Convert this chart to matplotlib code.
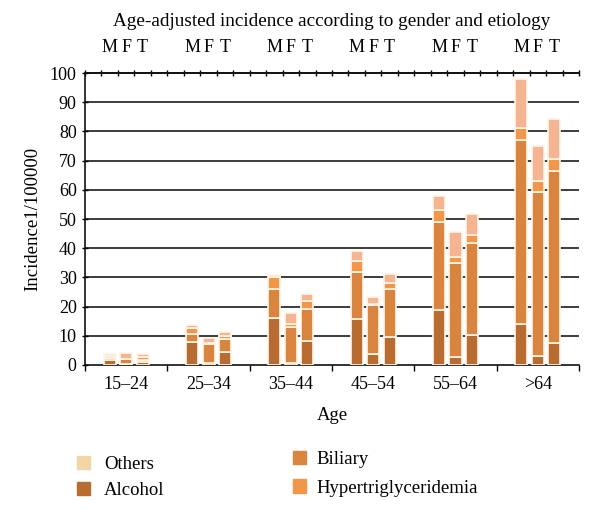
import matplotlib.pyplot as plt
from matplotlib.patches import Patch
from matplotlib.ticker import FixedLocator
import numpy as np

plt.rcParams['font.family'] = ['Liberation Serif', 'DejaVu Serif']

# age groups, each with bars for M, F, T
age_groups = ['15\u201324', '25\u201334', '35\u201344', '45\u201354', '55\u201364', '>64']
genders = ['M', 'F', 'T']

# values per bar, order: group by group, M F T
alcohol = [1.6, 0.3, 0.9, 7.8, 0.8, 4.6, 16.2, 0.8, 8.3,
           15.6, 3.8, 9.6, 18.8, 2.6, 10.3, 14.0, 3.1, 7.4]
biliary = [0.8, 1.7, 0.8, 2.7, 6.3, 4.4, 9.8, 12.3, 10.8,
           16.1, 16.9, 16.3, 30.3, 32.2, 31.6, 63.1, 56.0, 59.0]
hypertg = [0.7, 0.2, 0.9, 2.3, 0.5, 1.0, 4.3, 0.9, 2.9,
           3.9, 0.3, 2.1, 4.0, 2.3, 2.6, 4.2, 3.9, 4.0]
others = [0.7, 1.8, 1.3, 1.0, 1.5, 1.4, 0.4, 3.9, 2.2,
          3.4, 2.4, 3.0, 4.9, 8.6, 7.1, 16.6, 12.0, 14.0]

c_alc = '#b86c32'
c_bil = '#d9853f'
c_hyp = '#f2974a'
c_oth = '#f5b593'
c_oth_leg = '#f2d7a4'
edge = '#fff6e8'

fig = plt.figure(figsize=(6, 5.22), dpi=100)
ax = fig.add_axes([0.1417, 0.3008, 0.8233, 0.5592])

n = len(age_groups)
x = np.array([i + 0.3 + 0.2 * j for i in range(n) for j in range(3)])
w = 0.146

bottom = np.zeros(len(x))
for vals, col in [(alcohol, c_alc), (biliary, c_bil), (hypertg, c_hyp), (others, c_oth)]:
    ax.bar(x, vals, w, bottom=bottom, color=col, edgecolor=edge, linewidth=1.2, zorder=3)
    bottom = bottom + np.array(vals)

ax.set_xlim(0, n)
ax.set_ylim(0, 100)
yt = np.arange(0, 101, 10)
ax.set_yticks(yt)
# horizontal grid lines behind the bars
ax.hlines(yt[1:-1], 0, n, color='#3c3c3c', linewidth=1.4, zorder=1)

ax.set_xticks(np.arange(n) + 0.5)
ax.set_xticklabels(age_groups, fontsize=13)
ax.xaxis.set_minor_locator(FixedLocator(np.arange(n + 1)))
ax.tick_params(axis='x', which='major', length=0, pad=8)
ax.tick_params(axis='x', which='minor', length=4, direction='out', width=1)
ax.tick_params(axis='y', labelsize=13, length=5, direction='inout', width=1)

ax.spines['right'].set_visible(False)
for s in ['left', 'bottom', 'top']:
    ax.spines[s].set_linewidth(1.2)
    ax.spines[s].set_color('#111111')

# top axis with gender labels
top = ax.secondary_xaxis('top')
top.set_xticks(x)
top.set_xticklabels(genders * n, fontsize=13)
top.xaxis.set_minor_locator(FixedLocator(np.arange(0, n + 0.01, 0.2)))
top.tick_params(which='major', length=0, pad=12)
top.tick_params(which='minor', length=5, direction='inout', width=1)
top.spines['top'].set_linewidth(1.2)

ax.set_title('Age-adjusted incidence according to gender and etiology',
             fontsize=13.8, pad=34)
ax.set_xlabel('Age', fontsize=13.5, labelpad=10)
ax.set_ylabel('Incidence1/100000', fontsize=13.5, labelpad=6)

leg1 = fig.legend(handles=[Patch(color=c_oth_leg, label='Others'),
                           Patch(color=c_alc, label='Alcohol')],
                  loc='upper left', bbox_to_anchor=(0.128, 0.126), frameon=False,
                  borderpad=0, borderaxespad=0,
                  fontsize=13.5, handlelength=0.7, handleheight=0.7, labelspacing=0.45,
                  handletextpad=0.75)
leg2 = fig.legend(handles=[Patch(color=c_bil, label='Biliary'),
                           Patch(color=c_hyp, label='Hypertriglyceridemia')],
                  loc='upper left', bbox_to_anchor=(0.488, 0.136), frameon=False,
                  borderpad=0, borderaxespad=0,
                  fontsize=13.5, handlelength=0.7, handleheight=0.7, labelspacing=0.6,
                  handletextpad=0.55)

fig.savefig('out.png', dpi=100)
